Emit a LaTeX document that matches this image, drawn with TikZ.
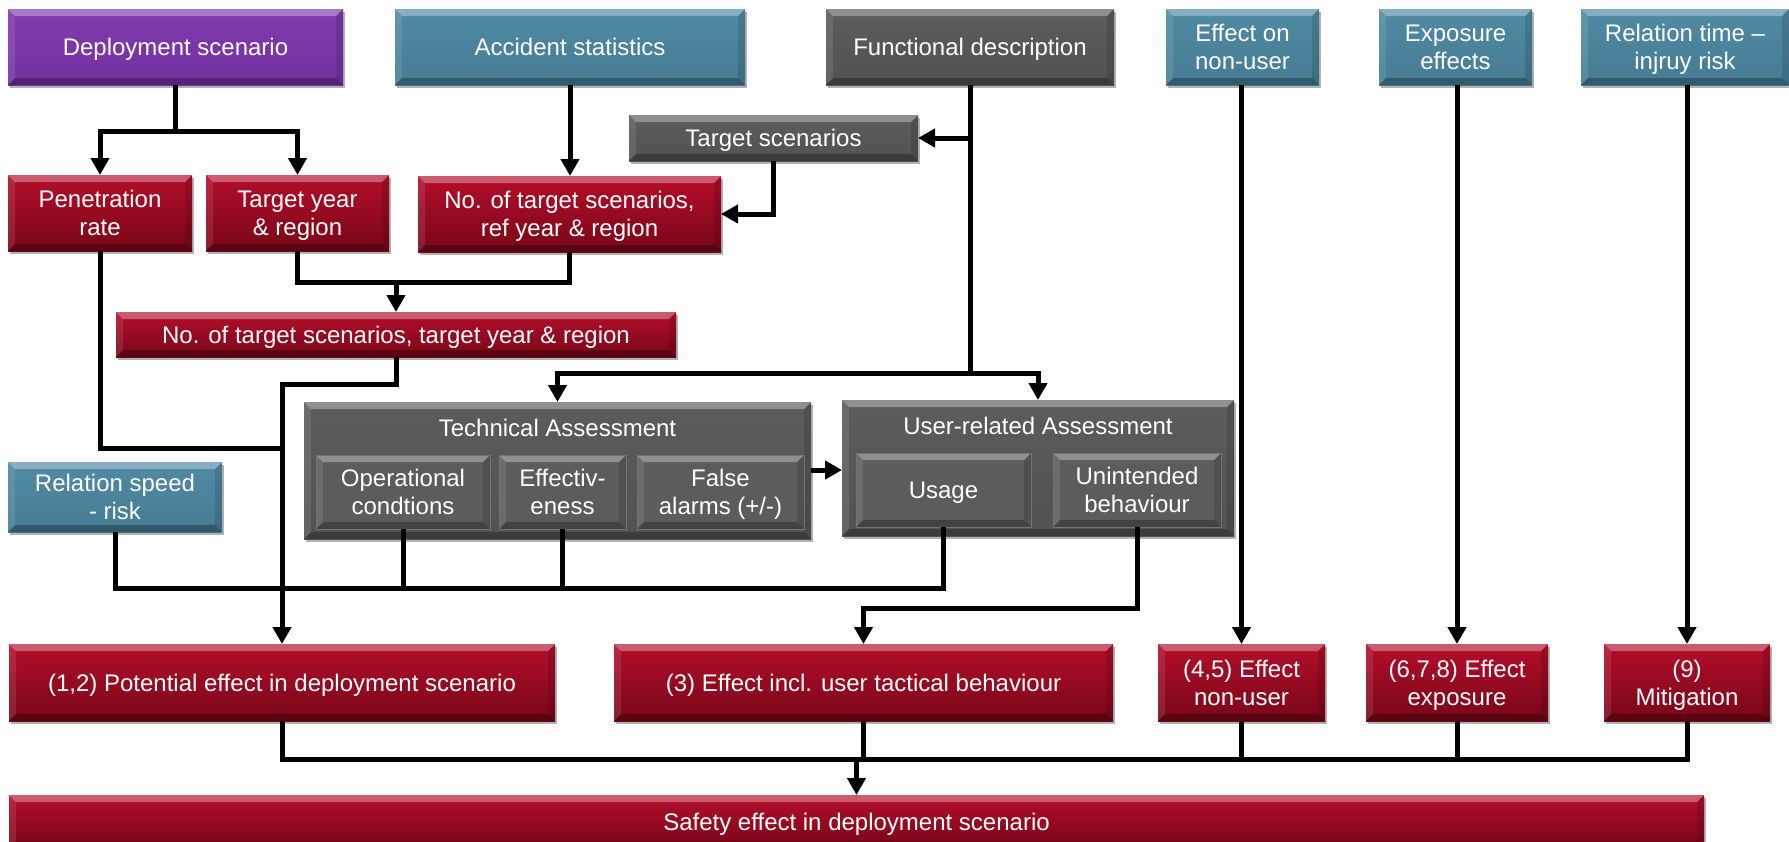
\documentclass[tikz,border=0pt]{standalone}
\usepackage{fontspec}
\setmainfont{Liberation Sans}
\usetikzlibrary{arrows.meta,shadows,calc}
\definecolor{redT}{RGB}{180,14,42}
\definecolor{redB}{RGB}{120,6,24}
\definecolor{purT}{RGB}{128,58,172}
\definecolor{purB}{RGB}{116,50,160}
\definecolor{tealT}{RGB}{80,138,163}
\definecolor{tealB}{RGB}{70,124,148}
\definecolor{grayT}{RGB}{92,92,92}
\definecolor{grayB}{RGB}{82,82,82}
\tikzset{
  bevel/.style={path picture={
    \fill[white,opacity=.32] (path picture bounding box.north west) -- (path picture bounding box.north east)
      -- ([shift={(-7pt,-7pt)}]path picture bounding box.north east) -- ([shift={(7pt,-7pt)}]path picture bounding box.north west) -- cycle;
    \fill[white,opacity=.1] (path picture bounding box.north west) -- ([shift={(7pt,-7pt)}]path picture bounding box.north west)
      -- ([shift={(7pt,7pt)}]path picture bounding box.south west) -- (path picture bounding box.south west) -- cycle;
    \fill[black,opacity=.12] (path picture bounding box.north east) -- ([shift={(-7pt,-7pt)}]path picture bounding box.north east)
      -- ([shift={(-7pt,7pt)}]path picture bounding box.south east) -- (path picture bounding box.south east) -- cycle;
    \fill[black,opacity=.28] (path picture bounding box.south west) -- (path picture bounding box.south east)
      -- ([shift={(-7pt,7pt)}]path picture bounding box.south east) -- ([shift={(7pt,7pt)}]path picture bounding box.south west) -- cycle;
  }},
  txt/.style={text=white, align=center, font=\fontsize{24}{28}\selectfont, inner sep=0pt},
  box/.style={txt, text depth=0pt, outer sep=0pt, bevel, drop shadow={shadow xshift=2pt,shadow yshift=-3pt,opacity=.3,fill=black}},
  redbox/.style={box, top color=redT, bottom color=redB},
  purbox/.style={box, top color=purT, bottom color=purB},
  tealbox/.style={box, top color=tealT, bottom color=tealB},
  graybox/.style={box, top color=grayT, bottom color=grayB},
  innerbox/.style={txt, text depth=0pt, outer sep=0pt, bevel, fill=grayT, draw=black!55, line width=0.8pt},
  ln/.style={line width=5pt, line join=miter, draw=black},
  arr/.style={ln, -{Triangle[length=17pt,width=18pt]}},
}
% style, name, x1, y1, x2, y2, text  (pixel coordinates, y downwards)
\newcommand\mkbox[7]{%
  \pgfmathsetmacro\mkw{#5-#3}\pgfmathsetmacro\mkh{#6-#4}%
  \pgfmathsetmacro\mkx{(#3+#5)/2}\pgfmathsetmacro\mky{(#4+#6)/2}%
  \node[#1, minimum width=\mkw pt, minimum height=\mkh pt] (#2) at (\mkx,\mky) {#7};}
\begin{document}
\begin{tikzpicture}[x=1pt,y=-1pt]
\useasboundingbox (0,0) rectangle (1789,841);
\clip (0,0) rectangle (1789,841);
% top row
\mkbox{purbox}{dep}{8}{9}{343}{85}{Deployment scenario}
\mkbox{tealbox}{acc}{395}{9}{745}{85}{Accident statistics}
\mkbox{graybox}{fun}{826}{9}{1114}{85}{Functional description}
\mkbox{tealbox}{eff}{1166}{9}{1319}{85}{Effect on\\non-user}
\mkbox{tealbox}{expo}{1379}{9}{1532}{85}{Exposure\\effects}
\mkbox{tealbox}{rtime}{1581}{9}{1789}{85}{Relation time –\\injruy risk}
% second row
\mkbox{graybox}{tsc}{629}{115}{918}{161}{Target scenarios}
\mkbox{redbox}{pen}{8}{175}{192}{251}{Penetration\\rate}
\mkbox{redbox}{tyr}{206}{175}{389}{251}{Target year\\\& region}
\mkbox{redbox}{nref}{418}{176}{721}{252}{No. of target scenarios,\\ref year \& region}
\mkbox{redbox}{ntgt}{116}{312}{676}{357}{No. of target scenarios, target year \& region}
% assessments
\mkbox{graybox}{tech}{304}{402}{811}{539}{}
\node[txt] (techt) at (557.5,428) {Technical Assessment};
\mkbox{innerbox}{opc}{316}{455}{490}{529}{Operational\\condtions}
\mkbox{innerbox}{effv}{499}{455}{626}{529}{Effectiv-\\eness}
\mkbox{innerbox}{fal}{637}{455}{804}{529}{False\\alarms (+/-)}
\mkbox{graybox}{user}{842}{400}{1234}{536}{}
\node[txt] (usert) at (1038,426) {User-related Assessment};
\mkbox{innerbox}{usage}{856}{453}{1031}{527}{Usage}
\mkbox{innerbox}{unint}{1053}{453}{1221}{527}{Unintended\\behaviour}
\mkbox{tealbox}{rspd}{8}{462}{222}{532}{Relation speed\\- risk}
% effects row
\mkbox{redbox}{p12}{9}{644}{555}{721}{(1,2) Potential effect in deployment scenario}
\mkbox{redbox}{p3}{614}{644}{1113}{721}{(3) Effect incl. user tactical behaviour}
\mkbox{redbox}{p45}{1158}{644}{1325}{721}{(4,5) Effect\\non-user}
\mkbox{redbox}{p678}{1366}{644}{1548}{721}{(6,7,8) Effect\\exposure}
\mkbox{redbox}{p9}{1604}{644}{1770}{721}{(9)\\Mitigation}
\mkbox{redbox}{safe}{9}{795}{1704}{848}{Safety effect in deployment scenario}
% connectors
\coordinate (j1) at (dep.south |- 0,131);
\draw[ln] (dep.south) -- (j1);
\draw[arr] (j1) -| (pen.north);
\draw[arr] (j1) -| (tyr.north);
\draw[arr] (acc.south) -- (acc.south |- nref.north);
\coordinate (j4) at (fun.south |- 0,373);
\draw[ln] (fun.south) -- (j4);
\draw[arr] (fun.south |- tsc.east) -- (tsc.east);
\draw[arr] (j4) -| (tech.north);
\draw[arr] (j4) -| (user.north);
\draw[arr] (tsc.south) |- (nref.east);
\coordinate (j3) at (ntgt.north |- 0,282);
\draw[ln] (tyr.south) |- (j3);
\draw[ln] (nref.south) |- (j3);
\draw[arr] (j3) -- (ntgt.north);
\coordinate (j5) at (ntgt.south |- 0,384);
\draw[arr] (ntgt.south) -- (j5) -| (p12.north);
\draw[ln] (pen.south) |- (p12.north |- 0,448);
\coordinate (j6) at (usage.south |- 0,588);
\draw[ln] (rspd.south) |- (j6) -- (usage.south);
\draw[ln] (opc.south) -- (opc.south |- j6);
\draw[ln] (effv.south) -- (effv.south |- j6);
\draw[arr] (unint.south) |- (p3.north |- 0,608) -- (p3.north);
\draw[arr] (tech.east |- 0,470) -- (user.west |- 0,470);
\draw[arr] (p45.north |- eff.south) -- (p45.north);
\draw[arr] (p678.north |- expo.south) -- (p678.north);
\draw[arr] (p9.north |- rtime.south) -- (p9.north);
\coordinate (j7) at (safe.north |- 0,759);
\draw[ln] (p12.south) |- (p9.south |- j7) -- (p9.south);
\draw[ln] (p3.south) -- (p3.south |- j7);
\draw[ln] (p45.south) -- (p45.south |- j7);
\draw[ln] (p678.south) -- (p678.south |- j7);
\draw[arr] (j7) -- (safe.north);
\end{tikzpicture}
\end{document}
